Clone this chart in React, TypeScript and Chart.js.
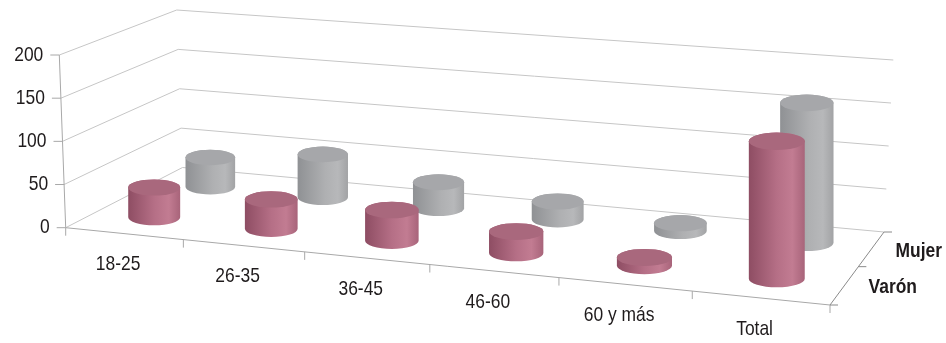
import { useEffect, useRef } from "react";
import { Chart, registerables } from "chart.js";

Chart.register(...registerables);

// Data
const categories = ["18-25", "26-35", "36-45", "46-60", "60 y más", "Total"];
const varon = [35, 34, 35, 24, 9, 150];
const mujer = [36, 52, 31, 21, 9, 160];
const seriesNames = ["Varón", "Mujer"];
const yTicks = [0, 50, 100, 150, 200];

const W = 946;
const H = 343;

// Box geometry: floor corners (front-left, front-right, back-right, back-left)
const FLOOR_FL: [number, number] = [65.7, 227.7];
const FLOOR_FR: [number, number] = [830, 305];
const FLOOR_BR: [number, number] = [884, 232];
const FLOOR_BL: [number, number] = [182.5, 167.5];
// Screen vector covering the full value range at each floor corner
const RISE_FL: [number, number] = [-6.4, -172.7];
const RISE_FR: [number, number] = [9, -188.6];
const RISE_BR: [number, number] = [9.3, -172];
const RISE_BL: [number, number] = [-5.8, -157.5];
// depth of each series row on the floor (0 = front, 1 = back)
const ROW_DEPTH = [0.25, 0.75];

const GRID = "#c6c6c6";
const AXIS = "#a8a8a8";
const DEPTH_AXIS = "#8a8a8a";
const TEXT = "#1f1b1c";
const FONT_FAMILY = "'Liberation Sans', Arial, sans-serif";
const FONT_SIZE = 21;
const NARROW = 0.83;

const STYLES = [
  {
    top: "#a9687d",
    side: [
      [0, "#8e4d63"],
      [0.5, "#b56f86"],
      [0.78, "#c27c92"],
      [1, "#a8647a"],
    ],
  },
  {
    top: "#a6a7aa",
    side: [
      [0, "#8f9194"],
      [0.55, "#afb0b2"],
      [0.8, "#b7b8ba"],
      [1, "#a2a3a5"],
    ],
  },
];

type Pt = [number, number];

function makeFloor(p0: Pt, p1: Pt, p2: Pt, p3: Pt) {
  const [x0, y0] = p0, [x1, y1] = p1, [x2, y2] = p2, [x3, y3] = p3;
  const sx = x0 - x1 + x2 - x3;
  const sy = y0 - y1 + y2 - y3;
  const dx1 = x1 - x2, dx2 = x3 - x2, dy1 = y1 - y2, dy2 = y3 - y2;
  const det = dx1 * dy2 - dx2 * dy1;
  const g = (sx * dy2 - dx2 * sy) / det;
  const h = (dx1 * sy - sx * dy1) / det;
  const a = x1 - x0 + g * x1, b = x3 - x0 + h * x3, c = x0;
  const d = y1 - y0 + g * y1, e = y3 - y0 + h * y3, f = y0;
  return (u: number, v: number): Pt => {
    const w = g * u + h * v + 1;
    return [(a * u + b * v + c) / w, (d * u + e * v + f) / w];
  };
}

const floorAt = makeFloor(FLOOR_FL, FLOOR_FR, FLOOR_BR, FLOOR_BL);

function riseAt(u: number, v: number): Pt {
  const k0 = (1 - u) * (1 - v), k1 = u * (1 - v), k2 = u * v, k3 = (1 - u) * v;
  return [
    k0 * RISE_FL[0] + k1 * RISE_FR[0] + k2 * RISE_BR[0] + k3 * RISE_BL[0],
    k0 * RISE_FL[1] + k1 * RISE_FR[1] + k2 * RISE_BR[1] + k3 * RISE_BL[1],
  ];
}

function project(u: number, v: number, t: number): Pt {
  const f = floorAt(u, v);
  const r = riseAt(u, v);
  return [f[0] + r[0] * t, f[1] + r[1] * t];
}

function seg(ctx: CanvasRenderingContext2D, a: Pt, b: Pt) {
  ctx.beginPath();
  ctx.moveTo(a[0], a[1]);
  ctx.lineTo(b[0], b[1]);
  ctx.stroke();
}

function text(
  ctx: CanvasRenderingContext2D,
  s: string,
  x: number,
  y: number,
  align: CanvasTextAlign,
  bold = false
) {
  ctx.save();
  ctx.translate(x, y);
  ctx.scale(NARROW, 1);
  ctx.font = `${bold ? "bold " : ""}${FONT_SIZE}px ${FONT_FAMILY}`;
  ctx.fillStyle = TEXT;
  ctx.textAlign = align;
  ctx.textBaseline = "middle";
  ctx.fillText(s, 0, 0);
  ctx.restore();
}

function cylinder(
  ctx: CanvasRenderingContext2D,
  cx: number,
  by: number,
  ty: number,
  rx: number,
  ry: number,
  style: (typeof STYLES)[number]
) {
  const grad = ctx.createLinearGradient(cx - rx, 0, cx + rx, 0);
  for (const [o, c] of style.side) grad.addColorStop(o as number, c as string);
  ctx.beginPath();
  ctx.moveTo(cx - rx, ty);
  ctx.lineTo(cx - rx, by);
  ctx.ellipse(cx, by, rx, ry, 0, Math.PI, 0, true);
  ctx.lineTo(cx + rx, ty);
  ctx.ellipse(cx, ty, rx, ry, 0, 0, Math.PI, true);
  ctx.closePath();
  ctx.fillStyle = grad;
  ctx.fill();

  ctx.beginPath();
  ctx.ellipse(cx, ty, rx, ry, 0, 0, Math.PI * 2);
  ctx.fillStyle = style.top;
  ctx.fill();
}

const box3d = {
  id: "box3d",
  afterDatasetsDraw(chart: Chart) {
    const { ctx, chartArea: area } = chart;
    const ys = chart.scales.y;
    const span = ys.bottom - ys.top;
    const tOf = (val: number) => (ys.bottom - ys.getPixelForValue(val)) / span;
    const n = (chart.data.labels as string[]).length;

    ctx.save();
    ctx.lineWidth = 1;

    // side and back walls
    ctx.strokeStyle = GRID;
    for (const val of yTicks) {
      const t = tOf(val);
      seg(ctx, project(0, 0, t), project(0, 1, t));
      seg(ctx, project(0, 1, t), project(1, 1, t));
    }

    // cylinders, back row first
    const order = chart.data.datasets
      .map((_, i) => i)
      .sort((a, b) => ROW_DEPTH[b] - ROW_DEPTH[a]);
    for (const di of order) {
      const meta = chart.getDatasetMeta(di);
      const v = ROW_DEPTH[di];
      meta.data.forEach((el: any) => {
        const u = (el.x - area.left) / area.width;
        const t = (el.base - el.y) / span;
        const [bx, by] = floorAt(u, v);
        const rise = riseAt(u, v);
        const ty = by + rise[1] * t;
        const rx = (el.width / 2) * 0.743 * (-rise[1] / -RISE_FL[1]);
        const ry = rx * 0.31;
        cylinder(ctx, bx, by, ty, rx, ry, STYLES[di]);
      });
    }

    // value axis
    ctx.strokeStyle = AXIS;
    const a0 = project(0, 0, 0);
    const a1 = project(0, 0, 1);
    seg(ctx, a0, a1);
    for (const val of yTicks) {
      const p = project(0, 0, tOf(val));
      seg(ctx, [p[0] - 9, p[1]], p);
      text(ctx, String(val), p[0] - 16, p[1], "right");
    }

    // category axis along the front edge
    seg(ctx, floorAt(0, 0), floorAt(1, 0));
    for (let k = 0; k <= n; k++) {
      const p = floorAt(k / n, 0);
      seg(ctx, p, [p[0], p[1] + 8]);
    }
    const xs = chart.scales.x;
    (chart.data.labels as string[]).forEach((lab, i) => {
      const u = (xs.getPixelForValue(i) - area.left) / area.width;
      const p = floorAt(u, 0);
      text(ctx, lab, p[0] - 6, p[1] + 31, "center");
    });

    // series (depth) axis
    ctx.strokeStyle = DEPTH_AXIS;
    seg(ctx, floorAt(1, 0), floorAt(1, 1));
    for (const v of [0, 0.5, 1]) {
      const p = floorAt(1, v);
      seg(ctx, p, [p[0] + 8, p[1]]);
    }
    chart.data.datasets.forEach((ds, di) => {
      const p = floorAt(1, ROW_DEPTH[di]);
      text(ctx, ds.label as string, p[0] + 24, p[1] + 2, "left", true);
    });

    ctx.restore();
  },
};

export default function App() {
  const ref = useRef<HTMLCanvasElement>(null);

  useEffect(() => {
    if (!ref.current) return;
    const chart = new Chart(ref.current, {
      type: "bar",
      data: {
        labels: categories,
        datasets: [
          {
            label: seriesNames[0],
            data: varon,
            backgroundColor: "rgba(0,0,0,0)",
            borderWidth: 0,
            grouped: false,
            categoryPercentage: 0.8,
            barPercentage: 0.5625,
          },
          {
            label: seriesNames[1],
            data: mujer,
            backgroundColor: "rgba(0,0,0,0)",
            borderWidth: 0,
            grouped: false,
            categoryPercentage: 0.8,
            barPercentage: 0.5625,
          },
        ],
      },
      options: {
        responsive: false,
        maintainAspectRatio: false,
        animation: false,
        devicePixelRatio: 1,
        layout: { padding: 0 },
        events: [],
        plugins: {
          legend: { display: false },
          tooltip: { enabled: false },
        },
        scales: {
          x: { type: "category", display: false, offset: true },
          y: { type: "linear", display: false, min: 0, max: 200 },
        },
      },
      plugins: [box3d],
    });
    return () => chart.destroy();
  }, []);

  return (
    <div
      style={{
        position: "fixed",
        left: 0,
        top: 0,
        width: W,
        height: H,
        background: "#ffffff",
      }}
    >
      <canvas
        ref={ref}
        width={W}
        height={H}
        style={{ display: "block", width: W, height: H }}
      />
    </div>
  );
}
